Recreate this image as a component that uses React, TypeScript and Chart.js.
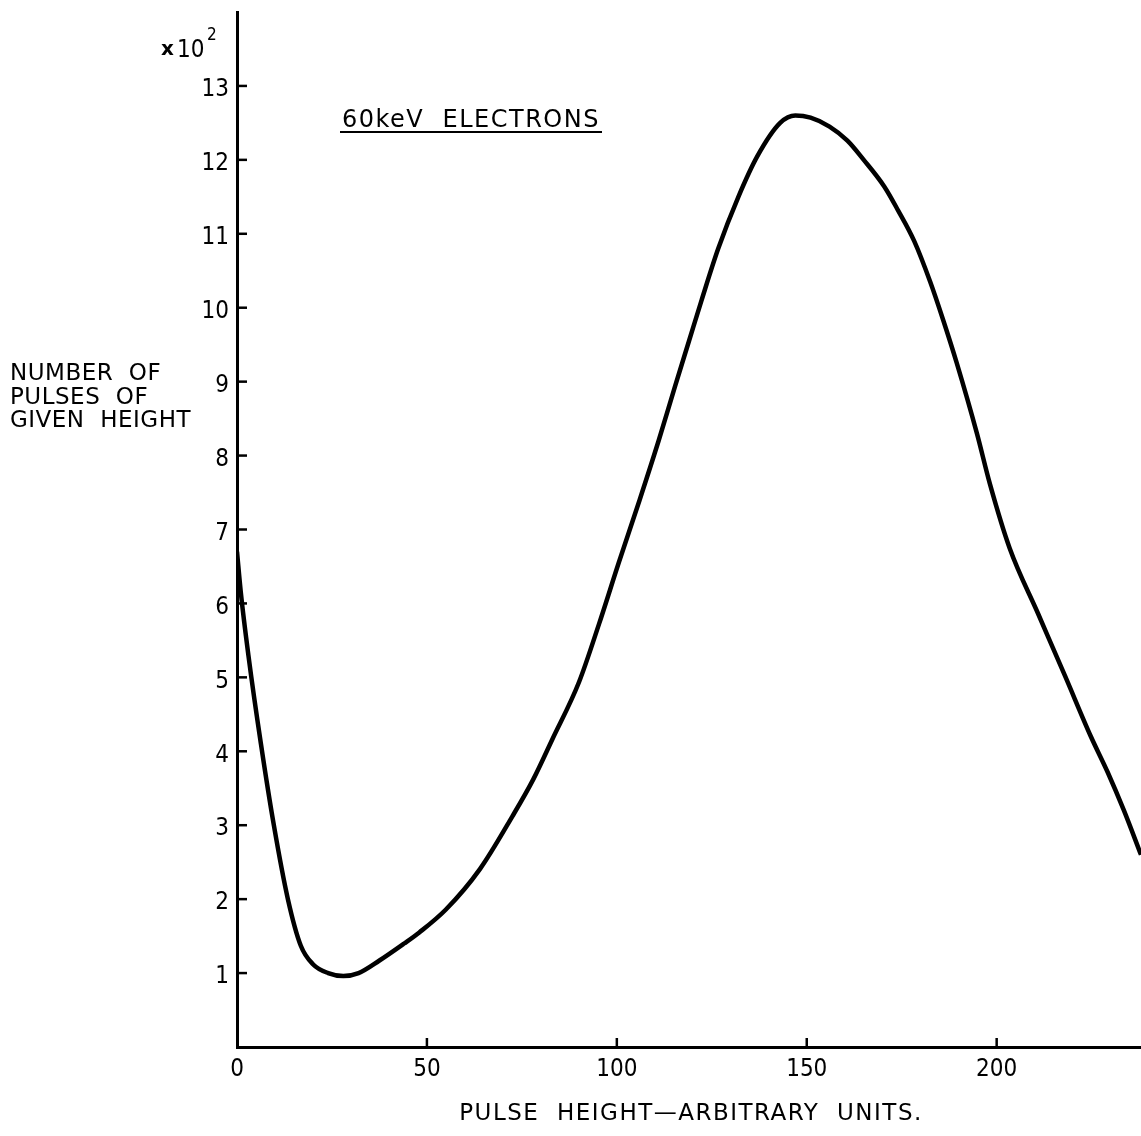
import React, { useEffect, useRef } from "react";
import { Chart, registerables } from "chart.js";

Chart.register(...registerables);

// Pulse height (arbitrary units)
const pulseHeight = [
  0, 1, 3, 6.3, 9.7, 13.4, 16.8, 20, 24, 28, 32, 37.5, 44, 48, 55, 64, 72.5, 78, 83, 90,
  95.3, 100.5, 106, 111, 115.4, 119, 122.3, 126.7, 132, 137, 143, 147, 151, 156, 160.7,
  165, 170.4, 174, 178.3, 182.5, 186, 189.5, 194.8, 198.2, 203.4, 211, 218, 224.8, 229.2,
  233.5, 238,
];
// Number of pulses (x10^2)
const pulseCount = [
  6.7, 6.15, 5.3, 4.1, 3.0, 2.0, 1.37, 1.12, 1.0, 0.96, 1.0, 1.17, 1.4, 1.55, 1.86, 2.41,
  3.12, 3.62, 4.16, 4.93, 5.72, 6.55, 7.4, 8.2, 8.95, 9.55, 10.1, 10.8, 11.5, 12.05,
  12.5, 12.6, 12.57, 12.45, 12.26, 12.0, 11.64, 11.32, 10.9, 10.35, 9.82, 9.25, 8.3, 7.62,
  6.75, 5.85, 5.02, 4.2, 3.72, 3.2, 2.6,
];
const xTicks = [0, 50, 100, 150, 200];
const yTicks = [0, 1, 2, 3, 4, 5, 6, 7, 8, 9, 10, 11, 12, 13];

const yTitleLines = ["NUMBER  OF", "PULSES  OF", "GIVEN  HEIGHT"];
const xTitle = "PULSE  HEIGHT\u2014ARBITRARY  UNITS.";
const annotation = "60keV  ELECTRONS";

const FONT = "'DejaVu Sans', sans-serif";
const NUM_FONT = "'Liberation Sans Narrow', 'DejaVu Sans Condensed', 'DejaVu Sans', sans-serif";

const decorPlugin = {
  id: "decor",
  afterDraw(chart: any) {
    const { ctx, chartArea, scales } = chart;
    const xs = scales.x;
    const ys = scales.y;
    ctx.save();
    ctx.strokeStyle = "#000";
    ctx.fillStyle = "#000";
    ctx.lineWidth = 2.5;
    // inward tick marks
    yTicks.forEach((v) => {
      if (v === 0) return;
      const y = ys.getPixelForValue(v);
      ctx.beginPath();
      ctx.moveTo(chartArea.left, y);
      ctx.lineTo(chartArea.left + 10, y);
      ctx.stroke();
    });
    xTicks.forEach((v) => {
      if (v === 0) return;
      const x = xs.getPixelForValue(v);
      ctx.beginPath();
      ctx.moveTo(x, chartArea.bottom);
      ctx.lineTo(x, chartArea.bottom - 9);
      ctx.stroke();
    });

    // y axis title (horizontal, left)
    ctx.font = `23px ${FONT}`;
    ctx.textAlign = "left";
    ctx.textBaseline = "alphabetic";
    (ctx as any).letterSpacing = "0.5px";
    yTitleLines.forEach((t, i) => {
      ctx.fillText(t, 10, 380 + i * 23.5);
    });

    // x axis title
    ctx.font = `23px ${FONT}`;
    ctx.textAlign = "center";
    (ctx as any).letterSpacing = "1.5px";
    ctx.fillText(xTitle, 691, 1120);

    // annotation
    ctx.font = `24px ${FONT}`;
    ctx.textAlign = "left";
    (ctx as any).letterSpacing = "1.5px";
    ctx.fillText(annotation, 342, 127);
    ctx.lineWidth = 2;
    ctx.beginPath();
    ctx.moveTo(340, 132);
    ctx.lineTo(602, 132);
    ctx.stroke();

    // x10^2 multiplier
    (ctx as any).letterSpacing = "0px";
    ctx.font = `bold 20px ${FONT}`;
    ctx.fillText("x", 161, 55);
    ctx.font = `24px ${NUM_FONT}`;
    ctx.fillText("10", 177, 57);
    ctx.font = `17px ${NUM_FONT}`;
    ctx.fillText("2", 207, 40);
    ctx.restore();
  },
};

export default function App() {
  const canvasRef = useRef<HTMLCanvasElement | null>(null);

  useEffect(() => {
    const canvas = canvasRef.current;
    if (!canvas) return;
    const chart = new Chart(canvas, {
      type: "line",
      data: {
        datasets: [
          {
            data: pulseHeight.map((x, i) => ({ x, y: pulseCount[i] })),
            borderColor: "#000",
            borderWidth: 4.5,
            pointRadius: 0,
            fill: false,
            cubicInterpolationMode: "monotone",
          },
        ],
      },
      options: {
        animation: false,
        responsive: false,
        maintainAspectRatio: false,
        layout: { padding: { top: 12, left: 0, right: 0, bottom: 0 } },
        plugins: {
          legend: { display: false },
          tooltip: { enabled: false },
          title: { display: false },
        },
        scales: {
          x: {
            type: "linear",
            min: 0,
            max: 238,
            afterBuildTicks: (s: any) => {
              s.ticks = xTicks.map((v) => ({ value: v }));
            },
            afterFit: (s: any) => {
              s.height = 89;
              s.paddingLeft = 0;
              s.paddingRight = 0;
            },
            grid: { display: true, drawOnChartArea: false, drawTicks: false },
            border: { display: true, color: "#000", width: 3 },
            ticks: {
              color: "#000",
              padding: 8,
              maxRotation: 0,
              autoSkip: false,
              font: { family: NUM_FONT, size: 24 },
            },
          },
          y: {
            type: "linear",
            min: 0,
            max: 14,
            afterBuildTicks: (s: any) => {
              s.ticks = yTicks.map((v) => ({ value: v }));
            },
            afterFit: (s: any) => {
              s.width = 237;
              s.paddingTop = 0;
              s.paddingBottom = 0;
            },
            grid: { display: true, drawOnChartArea: false, drawTicks: false },
            border: { display: true, color: "#000", width: 3 },
            ticks: {
              color: "#000",
              padding: 8,
              labelOffset: 4,
              autoSkip: false,
              font: { family: NUM_FONT, size: 24 },
              callback: (v: any) => (v === 0 ? "" : String(v)),
            },
          },
        },
      },
      plugins: [decorPlugin],
    } as any);
    return () => chart.destroy();
  }, []);

  return (
    <div style={{ position: "absolute", left: 0, top: 0, width: 1141, height: 1136, background: "#fff" }}>
      <canvas ref={canvasRef} width={1141} height={1136} style={{ display: "block" }} />
    </div>
  );
}
